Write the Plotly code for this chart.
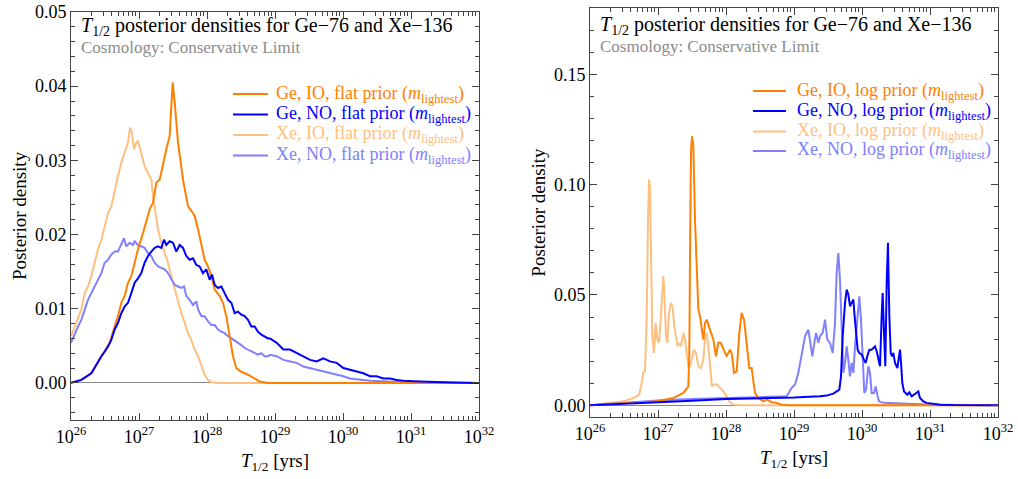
import numpy as np
import plotly.graph_objects as go

# ---------------- flat prior (left panel) ----------------
ge_io_flat_logT = [26.000, 26.152, 26.299, 26.422, 26.495, 26.569, 26.642, 26.691, 26.740, 26.789,
                   26.838, 26.887, 26.936, 26.985, 27.059, 27.108, 27.157, 27.206, 27.255, 27.304,
                   27.353, 27.402, 27.451, 27.475, 27.495, 27.525, 27.574, 27.647, 27.721, 27.770,
                   27.819, 27.868, 27.917, 27.966, 28.015, 28.064, 28.113, 28.186, 28.235, 28.284,
                   28.333, 28.382, 28.431, 28.505, 28.603, 28.701, 28.775, 28.897, 30.0, 32.0]
ge_io_flat_dens = [0.0000, 0.0004, 0.0013, 0.0031, 0.0042, 0.0054, 0.0076, 0.0090, 0.0108, 0.0117,
                   0.0135, 0.0144, 0.0162, 0.0180, 0.0202, 0.0220, 0.0234, 0.0243, 0.0270, 0.0274,
                   0.0297, 0.0315, 0.0333, 0.0369, 0.0405, 0.0378, 0.0324, 0.0274, 0.0238, 0.0232,
                   0.0225, 0.0207, 0.0184, 0.0166, 0.0157, 0.0144, 0.0126, 0.0117, 0.0108, 0.0090,
                   0.0063, 0.0036, 0.0020, 0.0015, 0.0011, 0.0006, 0.0002, 0.0000, 0.0, 0.0]

ge_no_flat_logT = [26.000, 26.152, 26.299, 26.397, 26.446, 26.495, 26.544, 26.593, 26.642, 26.691,
                   26.740, 26.789, 26.838, 26.887, 26.936, 26.985, 27.034, 27.083, 27.132, 27.181,
                   27.230, 27.279, 27.328, 27.368, 27.402, 27.451, 27.500, 27.549, 27.598, 27.647,
                   27.696, 27.745, 27.794, 27.843, 27.892, 27.941, 27.990, 28.039, 28.074, 28.113,
                   28.162, 28.211, 28.260, 28.309, 28.358, 28.407, 28.456, 28.505, 28.554, 28.603,
                   28.652, 28.701, 28.750, 28.799, 28.897, 28.926, 29.025, 29.123, 29.221, 29.319,
                   29.417, 29.515, 29.613, 29.711, 29.809, 29.907, 30.005, 30.103, 30.201, 30.299,
                   30.397, 30.495, 30.593, 30.691, 30.790, 30.887, 31.132, 31.378, 31.62, 32.0]
ge_no_flat_dens = [0.0000, 0.0004, 0.0013, 0.0029, 0.0036, 0.0042, 0.0049, 0.0058, 0.0072, 0.0081,
                   0.0094, 0.0103, 0.0108, 0.0121, 0.0135, 0.0141, 0.0148, 0.0162, 0.0171, 0.0177,
                   0.0182, 0.0184, 0.0182, 0.0193, 0.0186, 0.0191, 0.0189, 0.0177, 0.0186, 0.0182,
                   0.0171, 0.0166, 0.0168, 0.0159, 0.0157, 0.0148, 0.0153, 0.0139, 0.0146, 0.0132,
                   0.0128, 0.0130, 0.0121, 0.0112, 0.0108, 0.0094, 0.0096, 0.0092, 0.0090, 0.0085,
                   0.0076, 0.0076, 0.0069, 0.0065, 0.0060, 0.0060, 0.0054, 0.0045, 0.0045, 0.0040,
                   0.0036, 0.0031, 0.0029, 0.0033, 0.0029, 0.0027, 0.0020, 0.0018, 0.0015, 0.0013,
                   0.0009, 0.0009, 0.0006, 0.0006, 0.0004, 0.0003, 0.0002, 0.0001, 0.00005, 0.0]

xe_io_flat_logT = [26.000, 26.054, 26.103, 26.152, 26.201, 26.250, 26.299, 26.348, 26.397, 26.446,
                   26.495, 26.544, 26.593, 26.642, 26.691, 26.740, 26.789, 26.838, 26.868, 26.897,
                   26.926, 26.961, 26.985, 27.034, 27.083, 27.132, 27.181, 27.206, 27.240, 27.279,
                   27.328, 27.377, 27.426, 27.475, 27.525, 27.574, 27.623, 27.672, 27.721, 27.770,
                   27.819, 27.868, 27.917, 27.966, 28.015, 28.064, 28.162, 30.0, 32.0]
xe_io_flat_dens = [0.0063, 0.0076, 0.0085, 0.0099, 0.0121, 0.0130, 0.0144, 0.0162, 0.0180, 0.0193,
                   0.0211, 0.0229, 0.0238, 0.0261, 0.0279, 0.0297, 0.0310, 0.0324, 0.0344, 0.0337,
                   0.0315, 0.0324, 0.0326, 0.0310, 0.0292, 0.0283, 0.0274, 0.0252, 0.0229, 0.0207,
                   0.0189, 0.0175, 0.0162, 0.0144, 0.0126, 0.0108, 0.0094, 0.0081, 0.0067, 0.0058,
                   0.0045, 0.0036, 0.0022, 0.0011, 0.0004, 0.0001, 0.0000, 0.0, 0.0]

xe_no_flat_logT = [26.000, 26.054, 26.103, 26.152, 26.201, 26.250, 26.299, 26.348, 26.397, 26.446,
                   26.495, 26.544, 26.593, 26.642, 26.691, 26.740, 26.779, 26.814, 26.863, 26.912,
                   26.936, 26.985, 27.034, 27.083, 27.132, 27.181, 27.230, 27.279, 27.328, 27.377,
                   27.426, 27.475, 27.525, 27.574, 27.623, 27.662, 27.696, 27.745, 27.794, 27.843,
                   27.868, 27.917, 27.966, 28.015, 28.064, 28.113, 28.162, 28.211, 28.260, 28.309,
                   28.358, 28.407, 28.456, 28.505, 28.554, 28.603, 28.652, 28.701, 28.750, 28.799,
                   28.848, 28.897, 28.926, 29.025, 29.123, 29.221, 29.319, 29.417, 29.515, 29.613,
                   29.711, 29.809, 29.907, 30.005, 30.103, 30.201, 30.299, 30.397, 30.64, 30.887,
                   31.378, 32.0]
xe_no_flat_dens = [0.0054, 0.0067, 0.0076, 0.0085, 0.0099, 0.0112, 0.0121, 0.0130, 0.0139, 0.0148,
                   0.0162, 0.0166, 0.0173, 0.0177, 0.0177, 0.0186, 0.0195, 0.0184, 0.0189, 0.0186,
                   0.0191, 0.0186, 0.0184, 0.0182, 0.0175, 0.0171, 0.0162, 0.0157, 0.0155, 0.0153,
                   0.0148, 0.0141, 0.0132, 0.0130, 0.0128, 0.0130, 0.0117, 0.0112, 0.0105, 0.0110,
                   0.0099, 0.0090, 0.0090, 0.0083, 0.0078, 0.0078, 0.0072, 0.0069, 0.0067, 0.0063,
                   0.0060, 0.0058, 0.0054, 0.0051, 0.0047, 0.0045, 0.0042, 0.0040, 0.0038, 0.0040,
                   0.0036, 0.0036, 0.0038, 0.0036, 0.0031, 0.0029, 0.0027, 0.0022, 0.0020, 0.0018,
                   0.0015, 0.0013, 0.0011, 0.0009, 0.0006, 0.0005, 0.0004, 0.0003, 0.0002, 0.0001,
                   0.00005, 0.0]

# ---------------- log prior (right panel) ----------------
ge_io_log_logT = [26.000, 26.490, 26.980, 27.225, 27.373, 27.446, 27.461, 27.471, 27.485, 27.500,
                  27.520, 27.544, 27.569, 27.593, 27.618, 27.642, 27.667, 27.691, 27.716, 27.765,
                  27.814, 27.853, 27.887, 27.922, 27.961, 28.010, 28.059, 28.083, 28.118, 28.157,
                  28.196, 28.230, 28.265, 28.304, 28.343, 28.377, 28.402, 28.426, 28.475, 28.549,
                  28.598, 28.672, 28.745, 28.819, 28.941, 32.0]
ge_io_log_dens = [0.0000, 0.0008, 0.0018, 0.0033, 0.0056, 0.0086, 0.0237, 0.0690, 0.1144, 0.1219,
                  0.1174, 0.0842, 0.0615, 0.0434, 0.0403, 0.0358, 0.0298, 0.0373, 0.0388, 0.0343,
                  0.0298, 0.0222, 0.0283, 0.0283, 0.0252, 0.0222, 0.0252, 0.0237, 0.0147, 0.0154,
                  0.0328, 0.0419, 0.0388, 0.0267, 0.0169, 0.0169, 0.0101, 0.0056, 0.0033, 0.0018,
                  0.0026, 0.0014, 0.0011, 0.0003, 0.0000, 0.0]

ge_no_log_logT = [26.000, 26.500, 27.000, 27.500, 28.000, 28.500, 29.000, 29.382, 29.480, 29.578,
                  29.627, 29.667, 29.691, 29.716, 29.750, 29.775, 29.799, 29.824, 29.848, 29.873,
                  29.887, 29.912, 29.936, 29.961, 29.995, 30.029, 30.054, 30.078, 30.108, 30.142,
                  30.167, 30.191, 30.216, 30.240, 30.265, 30.289, 30.304, 30.324, 30.343, 30.363,
                  30.382, 30.402, 30.422, 30.441, 30.461, 30.485, 30.520, 30.544, 30.559, 30.574,
                  30.593, 30.618, 30.642, 30.667, 30.696, 30.730, 30.765, 30.804, 30.828, 30.853,
                  30.902, 30.951, 31.049, 31.147, 31.343, 32.0]
ge_no_log_dens = [0.0000, 0.0006, 0.0013, 0.0021, 0.0028, 0.0031, 0.0035, 0.0041, 0.0044, 0.0053,
                  0.0063, 0.0071, 0.0131, 0.0313, 0.0464, 0.0524, 0.0502, 0.0449, 0.0464, 0.0479,
                  0.0419, 0.0313, 0.0252, 0.0237, 0.0230, 0.0207, 0.0192, 0.0222, 0.0252, 0.0252,
                  0.0260, 0.0267, 0.0245, 0.0207, 0.0177, 0.0403, 0.0509, 0.0328, 0.0177, 0.0555,
                  0.0736, 0.0403, 0.0237, 0.0222, 0.0237, 0.0192, 0.0169, 0.0222, 0.0252, 0.0192,
                  0.0101, 0.0063, 0.0056, 0.0048, 0.0059, 0.0041, 0.0048, 0.0056, 0.0063, 0.0033,
                  0.0018, 0.0011, 0.0008, 0.0003, 0.0001, 0.0]

xe_io_log_logT = [26.000, 26.294, 26.490, 26.637, 26.725, 26.760, 26.784, 26.809, 26.833, 26.853,
                  26.868, 26.882, 26.897, 26.917, 26.941, 26.966, 26.990, 27.015, 27.039, 27.059,
                  27.078, 27.093, 27.118, 27.137, 27.162, 27.191, 27.216, 27.240, 27.265, 27.289,
                  27.314, 27.338, 27.373, 27.397, 27.422, 27.446, 27.471, 27.495, 27.529, 27.559,
                  27.593, 27.627, 27.667, 27.691, 27.716, 27.740, 27.765, 27.794, 27.824, 27.863,
                  27.912, 27.961, 28.010, 28.059, 28.108, 28.206, 32.0]
xe_io_log_dens = [0.0000, 0.0011, 0.0018, 0.0033, 0.0048, 0.0101, 0.0147, 0.0154, 0.0388, 0.0842,
                  0.1023, 0.0993, 0.0690, 0.0313, 0.0237, 0.0373, 0.0298, 0.0283, 0.0388, 0.0509,
                  0.0585, 0.0509, 0.0313, 0.0283, 0.0419, 0.0464, 0.0441, 0.0358, 0.0298, 0.0267,
                  0.0283, 0.0267, 0.0328, 0.0298, 0.0237, 0.0177, 0.0177, 0.0207, 0.0252, 0.0237,
                  0.0177, 0.0169, 0.0207, 0.0298, 0.0328, 0.0267, 0.0162, 0.0086, 0.0094, 0.0094,
                  0.0079, 0.0063, 0.0041, 0.0014, 0.0003, 0.0000, 0.0]

xe_no_log_logT = [26.000, 26.500, 27.000, 27.500, 28.000, 28.500, 28.794, 28.892, 28.966, 29.015,
                  29.064, 29.113, 29.162, 29.211, 29.245, 29.270, 29.299, 29.324, 29.358, 29.382,
                  29.422, 29.456, 29.490, 29.529, 29.569, 29.603, 29.627, 29.652, 29.676, 29.701,
                  29.725, 29.750, 29.775, 29.799, 29.824, 29.848, 29.873, 29.897, 29.931, 29.961,
                  29.985, 30.010, 30.034, 30.059, 30.093, 30.118, 30.142, 30.176, 30.201, 30.225,
                  30.250, 30.314, 30.510, 30.853, 31.245, 31.735, 32.0]
xe_no_log_dens = [0.0000, 0.0012, 0.0022, 0.0029, 0.0034, 0.0038, 0.0041, 0.0041, 0.0079, 0.0094,
                  0.0147, 0.0237, 0.0313, 0.0343, 0.0267, 0.0222, 0.0283, 0.0328, 0.0283, 0.0313,
                  0.0328, 0.0388, 0.0298, 0.0283, 0.0237, 0.0373, 0.0600, 0.0690, 0.0570, 0.0298,
                  0.0147, 0.0192, 0.0267, 0.0207, 0.0131, 0.0192, 0.0147, 0.0267, 0.0403, 0.0494,
                  0.0388, 0.0177, 0.0056, 0.0071, 0.0177, 0.0147, 0.0056, 0.0056, 0.0086, 0.0048,
                  0.0018, 0.0011, 0.0008, 0.0005, 0.0003, 0.0002, 0.0]

x_decades = [26, 27, 28, 29, 30, 31, 32]
x_tick_text = ["10<sup>%d</sup>" % d for d in x_decades]
left_y_ticks = [0.00, 0.01, 0.02, 0.03, 0.04, 0.05]
right_y_ticks = [0.00, 0.05, 0.10, 0.15]
left_labels = ["Ge, IO, flat prior", "Ge, NO, flat prior", "Xe, IO, flat prior", "Xe, NO, flat prior"]
right_labels = ["Ge, IO, log prior", "Ge, NO, log prior", "Xe, IO, log prior", "Xe, NO, log prior"]

ORANGE = "#ff8000"
BLUE = "#0000ff"
LIGHT_ORANGE = "#ffbf80"
LIGHT_BLUE = "#8080ff"
COLORS = [ORANGE, BLUE, LIGHT_ORANGE, LIGHT_BLUE]
FONT = "Liberation Serif, Times New Roman, serif"
FRAME = "#444444"

W, H = 1018, 479

left_data = [(ge_io_flat_logT, ge_io_flat_dens), (ge_no_flat_logT, ge_no_flat_dens),
             (xe_io_flat_logT, xe_io_flat_dens), (xe_no_flat_logT, xe_no_flat_dens)]
right_data = [(ge_io_log_logT, ge_io_log_dens), (ge_no_log_logT, ge_no_log_dens),
              (xe_io_log_logT, xe_io_log_dens), (xe_no_log_logT, xe_no_log_dens)]

fig = go.Figure()

# Xe curves first so the Ge curves sit on top
for data, labels, xa, ya in ((left_data, left_labels, "x", "y"), (right_data, right_labels, "x2", "y2")):
    for i in [2, 3, 0, 1]:
        logT, dens = data[i]
        fig.add_trace(go.Scatter(
            x=np.power(10.0, logT), y=dens, mode="lines",
            line=dict(color=COLORS[i], width=2),
            name=labels[i], xaxis=xa, yaxis=ya, showlegend=False,
        ))

x_minor = [k * 10.0 ** n for n in range(26, 32) for k in range(2, 10)]

common_x = dict(
    type="log", range=[26, 32], tickmode="array", automargin=False,
    tickvals=[10.0 ** d for d in x_decades], ticktext=x_tick_text,
    ticks="inside", ticklen=7, tickwidth=1, tickcolor=FRAME,
    minor=dict(tickmode="array", tickvals=x_minor, ticks="inside", ticklen=4,
               tickcolor=FRAME, showgrid=False),
    showline=True, linecolor=FRAME, linewidth=1, mirror="allticks",
    showgrid=False, zeroline=False,
    tickfont=dict(family=FONT, size=18, color="black"),
    title=dict(text="<i>T</i><sub>1/2</sub> [yrs]", font=dict(family=FONT, size=19, color="black"), standoff=8),
)
common_y = dict(
    automargin=False,
    ticks="inside", ticklen=7, tickwidth=1, tickcolor=FRAME,
    showline=True, linecolor=FRAME, linewidth=1, mirror="allticks",
    showgrid=False, zeroline=True, zerolinecolor="#888888", zerolinewidth=1,
    tickformat=".2f", tickmode="array",
    tickfont=dict(family=FONT, size=18, color="black"),
    title=dict(text="Posterior density", font=dict(family=FONT, size=19, color="black"), standoff=3),
)

fig.update_layout(
    template="none",
    width=W, height=H,
    margin=dict(l=0, r=0, t=0, b=0, autoexpand=False),
    paper_bgcolor="white", plot_bgcolor="white",
    font=dict(family=FONT, color="black"),
    showlegend=False,
    xaxis=dict(common_x, domain=[71 / W, 479 / W], anchor="y"),
    yaxis=dict(common_y, domain=[1 - 420 / H, 1 - 12 / H], anchor="x",
               range=[-0.005, 0.05], tickvals=left_y_ticks,
               minor=dict(dtick=0.002, tick0=0, ticks="inside", ticklen=4, tickcolor=FRAME, showgrid=False)),
    xaxis2=dict(common_x, domain=[590 / W, 998 / W], anchor="y2"),
    yaxis2=dict(common_y, domain=[1 - 417 / H, 1 - 8 / H], anchor="x2",
                range=[-0.0053, 0.18], tickvals=right_y_ticks,
                minor=dict(dtick=0.01, tick0=0, ticks="inside", ticklen=4, tickcolor=FRAME, showgrid=False)),
)

# panel headings
for x0, y1, y2 in ((79, 26, 48), (598, 25, 46)):
    fig.add_annotation(
        xref="paper", yref="paper", x=x0 / W, y=1 - y1 / H, xanchor="left", yanchor="middle",
        text="<i>T</i><sub>1/2</sub> posterior densities for Ge\u221276 and Xe\u2212136",
        showarrow=False, font=dict(family=FONT, size=20, color="black"))
    fig.add_annotation(
        xref="paper", yref="paper", x=x0 / W, y=1 - y2 / H, xanchor="left", yanchor="middle",
        text="Cosmology: Conservative Limit",
        showarrow=False, font=dict(family=FONT, size=17, color="#8c8c8c"))

# legends: short line keys with coloured labels
for labels, x_line, x_text, rows in ((left_labels, (233, 268), 274, (94, 114.5, 135, 155.5)),
                                     (right_labels, (753, 786), 795, (91, 111, 131.5, 151))):
    for i, lab in enumerate(labels):
        yr = 1 - rows[i] / H
        fig.add_shape(type="line", xref="paper", yref="paper",
                      x0=x_line[0] / W, x1=x_line[1] / W, y0=yr, y1=yr,
                      line=dict(color=COLORS[i], width=2))
        fig.add_annotation(
            xref="paper", yref="paper", x=x_text / W, y=yr, xanchor="left", yanchor="middle",
            text=lab + " (<i>m</i><sub>lightest</sub>)", showarrow=False,
            font=dict(family=FONT, size=18, color=COLORS[i]))

fig.write_html("out.html")
